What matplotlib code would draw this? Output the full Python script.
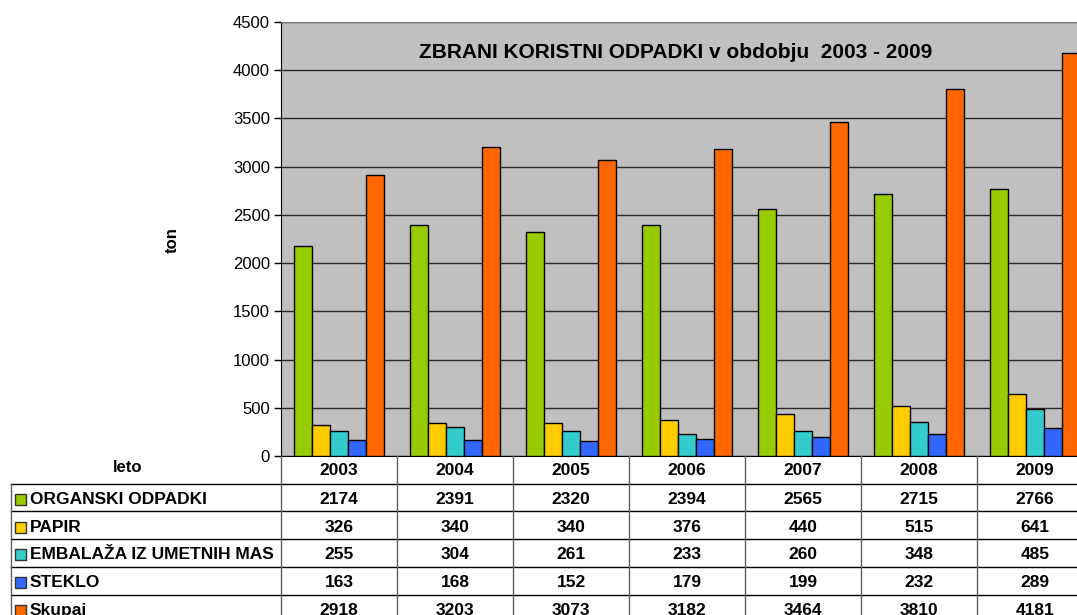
import matplotlib
matplotlib.use("Agg")
import matplotlib.pyplot as plt
from matplotlib.patches import Rectangle
from matplotlib.transforms import blended_transform_factory
import numpy as np

plt.rcParams['font.family'] = ['Liberation Sans', 'DejaVu Sans']

# data
years = ["2003", "2004", "2005", "2006", "2007", "2008", "2009"]
series_names = ["ORGANSKI ODPADKI", "PAPIR", "EMBALAŽA IZ UMETNIH MAS",
                "STEKLO", "Skupaj"]
organski = [2174, 2391, 2320, 2394, 2565, 2715, 2766]
papir = [326, 340, 340, 376, 440, 515, 641]
embalaza = [255, 304, 261, 233, 260, 348, 485]
steklo = [163, 168, 152, 179, 199, 232, 289]
skupaj = [2918, 3203, 3073, 3182, 3464, 3810, 4181]
colors = ["#99CC00", "#FFCC00", "#33CCCC", "#3366FF", "#FF6600"]
title = "ZBRANI KORISTNI ODPADKI v obdobju  2003 - 2009"

W, H = 1077, 615
fig = plt.figure(figsize=(W / 100, H / 100), dpi=100)

# plot area in pixels (right edge runs past the picture, like the original)
left, right, top, bottom = 281, 1093, 22, 456
ax = fig.add_axes([left / W, 1 - bottom / H, (right - left) / W,
                   (bottom - top) / H])
ax.set_facecolor("#C0C0C0")

all_series = [organski, papir, embalaza, steklo, skupaj]
x = np.arange(len(years))
bw = 1 / 6.5
for i, (vals, c) in enumerate(zip(all_series, colors)):
    ax.bar(x + (i - 2) * bw, vals, width=bw, color=c, edgecolor="black",
           linewidth=1.0, zorder=3)

ax.set_xlim(-0.5, len(years) - 0.5)
ax.set_ylim(0, 4500)
ax.set_yticks(np.arange(0, 4501, 500))
ax.yaxis.grid(True, color="#2a2a2a", linewidth=1.0, zorder=1)
ax.set_axisbelow(True)
ax.set_xticks([])
ax.tick_params(axis="y", length=5, width=1, pad=3, labelsize=12,
               direction="out")
for s in ["top", "right"]:
    ax.spines[s].set_color("#808080")
ax.spines["left"].set_color("black")
ax.spines["bottom"].set_color("black")

fig.text(676 / W, 1 - 52 / H, title, ha="center", va="center",
         fontsize=15, fontweight="bold")
fig.text(172 / W, 1 - 240 / H, "ton", rotation=90, ha="center",
         va="center", fontsize=12, fontweight="bold")

# data table below the plot area
fs = 12.5
row_h = 27.7
trans = blended_transform_factory(ax.transData, fig.transFigure)
def fy(py):
    return 1 - py / H

fig.text(128 / W, fy(bottom + row_h / 2 - 2), "leto", ha="center",
         va="center", fontsize=12, fontweight="bold")
for j, yr in enumerate(years):
    fig.text(x[j], fy(bottom + row_h / 2 + 1), yr, transform=trans,
             ha="center", va="center", fontsize=fs, fontweight="bold")

for r, (name, vals, c) in enumerate(zip(series_names, all_series, colors)):
    yc = bottom + row_h * (r + 1.5) + 2
    fig.patches.append(Rectangle((15 / W, fy(yc + 5.5)), 11 / W, 11 / H,
                                 transform=fig.transFigure, facecolor=c,
                                 edgecolor="#333333", linewidth=1.0))
    fig.text(30 / W, fy(yc), name, ha="left", va="center", fontsize=fs,
             fontweight="bold")
    for j, v in enumerate(vals):
        fig.text(x[j], fy(yc), str(v), transform=trans, ha="center",
                 va="center", fontsize=fs, fontweight="bold")

# table grid lines
for r in range(1, 6):
    yl = fy(bottom + row_h * r)
    fig.add_artist(plt.Line2D([11 / W, 1.0], [yl, yl], color="black",
                              linewidth=1.0))
fig.add_artist(plt.Line2D([11 / W, 11 / W], [fy(bottom + row_h), 0],
                          color="#606060", linewidth=1.0))
for k in range(len(years) + 1):
    fig.add_artist(plt.Line2D([k - 0.5, k - 0.5], [fy(bottom), 0],
                              transform=trans, color="#606060",
                              linewidth=1.0))

fig.savefig("out.png", dpi=100)
